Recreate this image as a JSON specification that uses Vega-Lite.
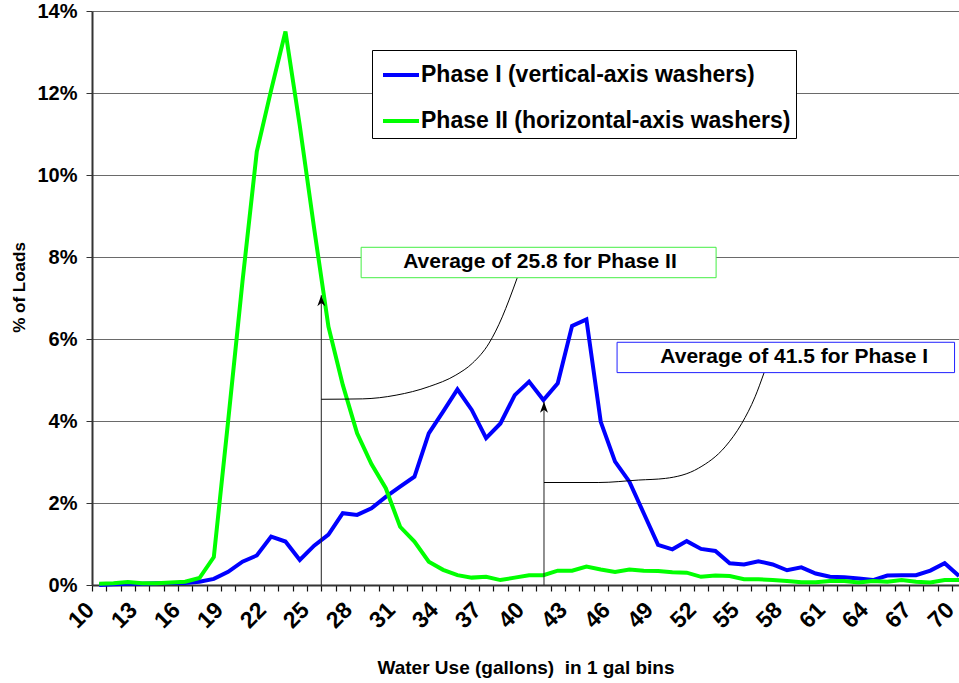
{
  "$schema": "https://vega.github.io/schema/vega-lite/v6.json",
  "width": 867,
  "height": 574,
  "autosize": {"type": "none"},
  "padding": {"left": 92, "top": 11, "right": 0, "bottom": 98},
  "background": "white",
  "config": {
    "font": "Liberation Sans",
    "view": {"stroke": null},
    "axis": {"labelColor": "black", "titleColor": "black", "labelFont": "Liberation Sans", "titleFont": "Liberation Sans"},
    "legend": {"labelFont": "Liberation Sans"}
  },
  "resolve": {"axis": {"x": "independent"}},
  "datasets": {
    "series": [
      {"gal": 10, "I": 0.00, "II": 0.03}, {"gal": 11, "I": 0.02, "II": 0.04}, {"gal": 12, "I": 0.03, "II": 0.07},
      {"gal": 13, "I": 0.03, "II": 0.04}, {"gal": 14, "I": 0.04, "II": 0.04}, {"gal": 15, "I": 0.05, "II": 0.06},
      {"gal": 16, "I": 0.05, "II": 0.08}, {"gal": 17, "I": 0.08, "II": 0.17}, {"gal": 18, "I": 0.15, "II": 0.68},
      {"gal": 19, "I": 0.32, "II": 4.0}, {"gal": 20, "I": 0.57, "II": 7.4}, {"gal": 21, "I": 0.72, "II": 10.57},
      {"gal": 22, "I": 1.18, "II": 12.07}, {"gal": 23, "I": 1.06, "II": 13.5}, {"gal": 24, "I": 0.61, "II": 11.2},
      {"gal": 25, "I": 0.96, "II": 8.7}, {"gal": 26, "I": 1.23, "II": 6.3}, {"gal": 27, "I": 1.75, "II": 4.88},
      {"gal": 28, "I": 1.71, "II": 3.7}, {"gal": 29, "I": 1.87, "II": 2.95}, {"gal": 30, "I": 2.15, "II": 2.36},
      {"gal": 31, "I": 2.40, "II": 1.42}, {"gal": 32, "I": 2.64, "II": 1.06}, {"gal": 33, "I": 3.70, "II": 0.57},
      {"gal": 34, "I": 4.23, "II": 0.37}, {"gal": 35, "I": 4.77, "II": 0.24}, {"gal": 36, "I": 4.27, "II": 0.18},
      {"gal": 37, "I": 3.58, "II": 0.20}, {"gal": 38, "I": 3.94, "II": 0.12}, {"gal": 39, "I": 4.63, "II": 0.18},
      {"gal": 40, "I": 4.96, "II": 0.24}, {"gal": 41, "I": 4.51, "II": 0.24}, {"gal": 42, "I": 4.92, "II": 0.35},
      {"gal": 43, "I": 6.32, "II": 0.35}, {"gal": 44, "I": 6.48, "II": 0.45}, {"gal": 45, "I": 3.98, "II": 0.38},
      {"gal": 46, "I": 3.01, "II": 0.32}, {"gal": 47, "I": 2.52, "II": 0.38}, {"gal": 48, "I": 1.75, "II": 0.35},
      {"gal": 49, "I": 0.98, "II": 0.34}, {"gal": 50, "I": 0.87, "II": 0.31}, {"gal": 51, "I": 1.07, "II": 0.30},
      {"gal": 52, "I": 0.88, "II": 0.20}, {"gal": 53, "I": 0.83, "II": 0.23}, {"gal": 54, "I": 0.53, "II": 0.22},
      {"gal": 55, "I": 0.50, "II": 0.14}, {"gal": 56, "I": 0.58, "II": 0.14}, {"gal": 57, "I": 0.50, "II": 0.12},
      {"gal": 58, "I": 0.36, "II": 0.10}, {"gal": 59, "I": 0.43, "II": 0.07}, {"gal": 60, "I": 0.28, "II": 0.07},
      {"gal": 61, "I": 0.20, "II": 0.10}, {"gal": 62, "I": 0.19, "II": 0.10}, {"gal": 63, "I": 0.16, "II": 0.06},
      {"gal": 64, "I": 0.12, "II": 0.10}, {"gal": 65, "I": 0.23, "II": 0.08}, {"gal": 66, "I": 0.24, "II": 0.12},
      {"gal": 67, "I": 0.24, "II": 0.08}, {"gal": 68, "I": 0.35, "II": 0.06}, {"gal": 69, "I": 0.53, "II": 0.12},
      {"gal": 70, "I": 0.22, "II": 0.12}
    ],
    "arrows": [
      {"id": "II", "gal": 25.5, "base": 0, "tip": 7.07},
      {"id": "I", "gal": 41.04, "base": 0, "tip": 4.47}
    ],
    "connectors": [
      {"id": "II", "gal": 25.5, "pct": 4.53},
      {"id": "II", "gal": 28.39, "pct": 4.54},
      {"id": "II", "gal": 30.72, "pct": 4.63},
      {"id": "II", "gal": 33.03, "pct": 4.84},
      {"id": "II", "gal": 34.89, "pct": 5.12},
      {"id": "II", "gal": 36.05, "pct": 5.41},
      {"id": "II", "gal": 37.21, "pct": 5.9},
      {"id": "II", "gal": 38.13, "pct": 6.54},
      {"id": "II", "gal": 38.6, "pct": 6.95},
      {"id": "II", "gal": 39.18, "pct": 7.5},
      {"id": "I", "gal": 41.04, "pct": 2.5},
      {"id": "I", "gal": 44.87, "pct": 2.5},
      {"id": "I", "gal": 47.65, "pct": 2.56},
      {"id": "I", "gal": 49.51, "pct": 2.6},
      {"id": "I", "gal": 51.83, "pct": 2.85},
      {"id": "I", "gal": 53.68, "pct": 3.37},
      {"id": "I", "gal": 54.84, "pct": 3.94},
      {"id": "I", "gal": 55.77, "pct": 4.59},
      {"id": "I", "gal": 56.4, "pct": 5.18}
    ],
    "boxes": [
      {"id": "II", "x1": 28.28, "x2": 53.05, "y1": 7.495, "y2": 8.237, "xc": 40.76, "yc": 7.866, "text": "Average of 25.8 for Phase II"},
      {"id": "I", "x1": 46.14, "x2": 69.69, "y1": 5.18, "y2": 5.92, "xc": 58.5, "yc": 5.549, "text": "Average of 41.5 for Phase I"}
    ]
  },
  "layer": [
    {
      "data": {"name": "series"},
      "transform": [{"fold": ["I", "II"], "as": ["phase", "pct"]}],
      "mark": {"type": "line", "strokeWidth": 4},
      "encoding": {
        "x": {
          "field": "gal", "type": "quantitative",
          "scale": {"domain": [9.5, 70], "nice": false, "zero": false},
          "axis": {
            "orient": "bottom",
            "values": [9.5,10.5,11.5,12.5,13.5,14.5,15.5,16.5,17.5,18.5,19.5,20.5,21.5,22.5,23.5,24.5,25.5,26.5,27.5,28.5,29.5,30.5,31.5,32.5,33.5,34.5,35.5,36.5,37.5,38.5,39.5,40.5,41.5,42.5,43.5,44.5,45.5,46.5,47.5,48.5,49.5,50.5,51.5,52.5,53.5,54.5,55.5,56.5,57.5,58.5,59.5,60.5,61.5,62.5,63.5,64.5,65.5,66.5,67.5,68.5,69.5],
            "labels": false, "ticks": true, "domain": true, "grid": false,
            "tickSize": 6, "tickColor": "#111111", "tickWidth": 1.2,
            "domainColor": "#333333", "domainWidth": 2,
            "title": null
          }
        },
        "y": {
          "field": "pct", "type": "quantitative",
          "scale": {"domain": [0, 14], "nice": false, "zero": true},
          "axis": {
            "values": [0, 2, 4, 6, 8, 10, 12, 14],
            "labelExpr": "datum.value + '%'",
            "labelFontSize": 20, "labelFontWeight": "bold", "labelPadding": 9,
            "tickSize": 6, "tickColor": "#333333", "tickWidth": 1,
            "domainColor": "#333333", "domainWidth": 2,
            "grid": true, "gridColor": "#6a6a6a", "gridWidth": 1,
            "title": "% of Loads", "titleFontSize": 17, "titleFontWeight": "bold", "titlePadding": 8, "titleY": 276
          }
        },
        "color": {
          "field": "phase", "type": "nominal",
          "scale": {"domain": ["I", "II"], "range": ["#0000ff", "#00ff00"]},
          "legend": {
            "title": null, "orient": "none", "legendX": 280, "legendY": 39,
            "padding": 5, "symbolOffset": 4, "rowPadding": 14, "labelOffset": 0,
            "strokeColor": "black", "fillColor": "white",
            "symbolType": "stroke", "symbolSize": 1296, "symbolStrokeWidth": 4,
            "labelFontSize": 23, "labelFontWeight": "bold", "labelLimit": 1000, "labelColor": "black",
            "labelExpr": "datum.value == 'I' ? 'Phase I (vertical-axis washers)' : 'Phase II (horizontal-axis washers)'"
          }
        }
      }
    },
    {
      "data": {"name": "arrows"},
      "mark": {"type": "rule", "color": "#222222", "strokeWidth": 1},
      "encoding": {
        "x": {
          "field": "gal", "type": "quantitative",
          "axis": {
            "orient": "bottom",
            "values": [10,13,16,19,22,25,28,31,34,37,40,43,46,49,52,55,58,61,64,67,70],
            "ticks": false, "domain": false, "grid": false, "labels": true,
            "labelAngle": -45, "labelAlign": "right", "labelBaseline": "middle",
            "labelFontSize": 23, "labelFontWeight": "bold", "labelPadding": 21, "labelOffset": -9,
            "labelOverlap": false, "labelFlush": false, "labelBound": false,
            "title": "Water Use (gallons)\u00a0 in 1 gal bins",
            "titleFontSize": 19, "titleFontWeight": "bold",
            "titleBaseline": "alphabetic", "titleY": 88
          }
        },
        "y": {"field": "base", "type": "quantitative"},
        "y2": {"field": "tip"}
      }
    },
    {
      "data": {"name": "connectors"},
      "mark": {"type": "line", "color": "black", "strokeWidth": 1, "interpolate": "monotone"},
      "encoding": {
        "x": {"field": "gal", "type": "quantitative", "axis": null},
        "y": {"field": "pct", "type": "quantitative"},
        "detail": {"field": "id"}
      }
    },
    {
      "data": {"name": "arrows"},
      "mark": {"type": "point", "filled": true, "color": "black", "opacity": 1, "size": 150, "shape": "M0,0L0.65,1.8L0,1.3L-0.65,1.8Z"},
      "encoding": {
        "x": {"field": "gal", "type": "quantitative", "axis": null},
        "y": {"field": "tip", "type": "quantitative"}
      }
    },
    {
      "data": {"name": "boxes"},
      "mark": {"type": "rect", "fill": "white", "strokeWidth": 1},
      "encoding": {
        "x": {"field": "x1", "type": "quantitative", "axis": null},
        "x2": {"field": "x2"},
        "y": {"field": "y1", "type": "quantitative"},
        "y2": {"field": "y2"},
        "stroke": {"field": "id", "type": "nominal", "scale": {"domain": ["I", "II"], "range": ["#2020ff", "#44ee44"]}, "legend": null}
      }
    },
    {
      "data": {"name": "boxes"},
      "mark": {"type": "text", "font": "Liberation Sans", "fontSize": 21, "fontWeight": "bold", "color": "black", "align": "center", "baseline": "middle"},
      "encoding": {
        "x": {"field": "xc", "type": "quantitative", "axis": null},
        "y": {"field": "yc", "type": "quantitative"},
        "text": {"field": "text"}
      }
    }
  ]
}
